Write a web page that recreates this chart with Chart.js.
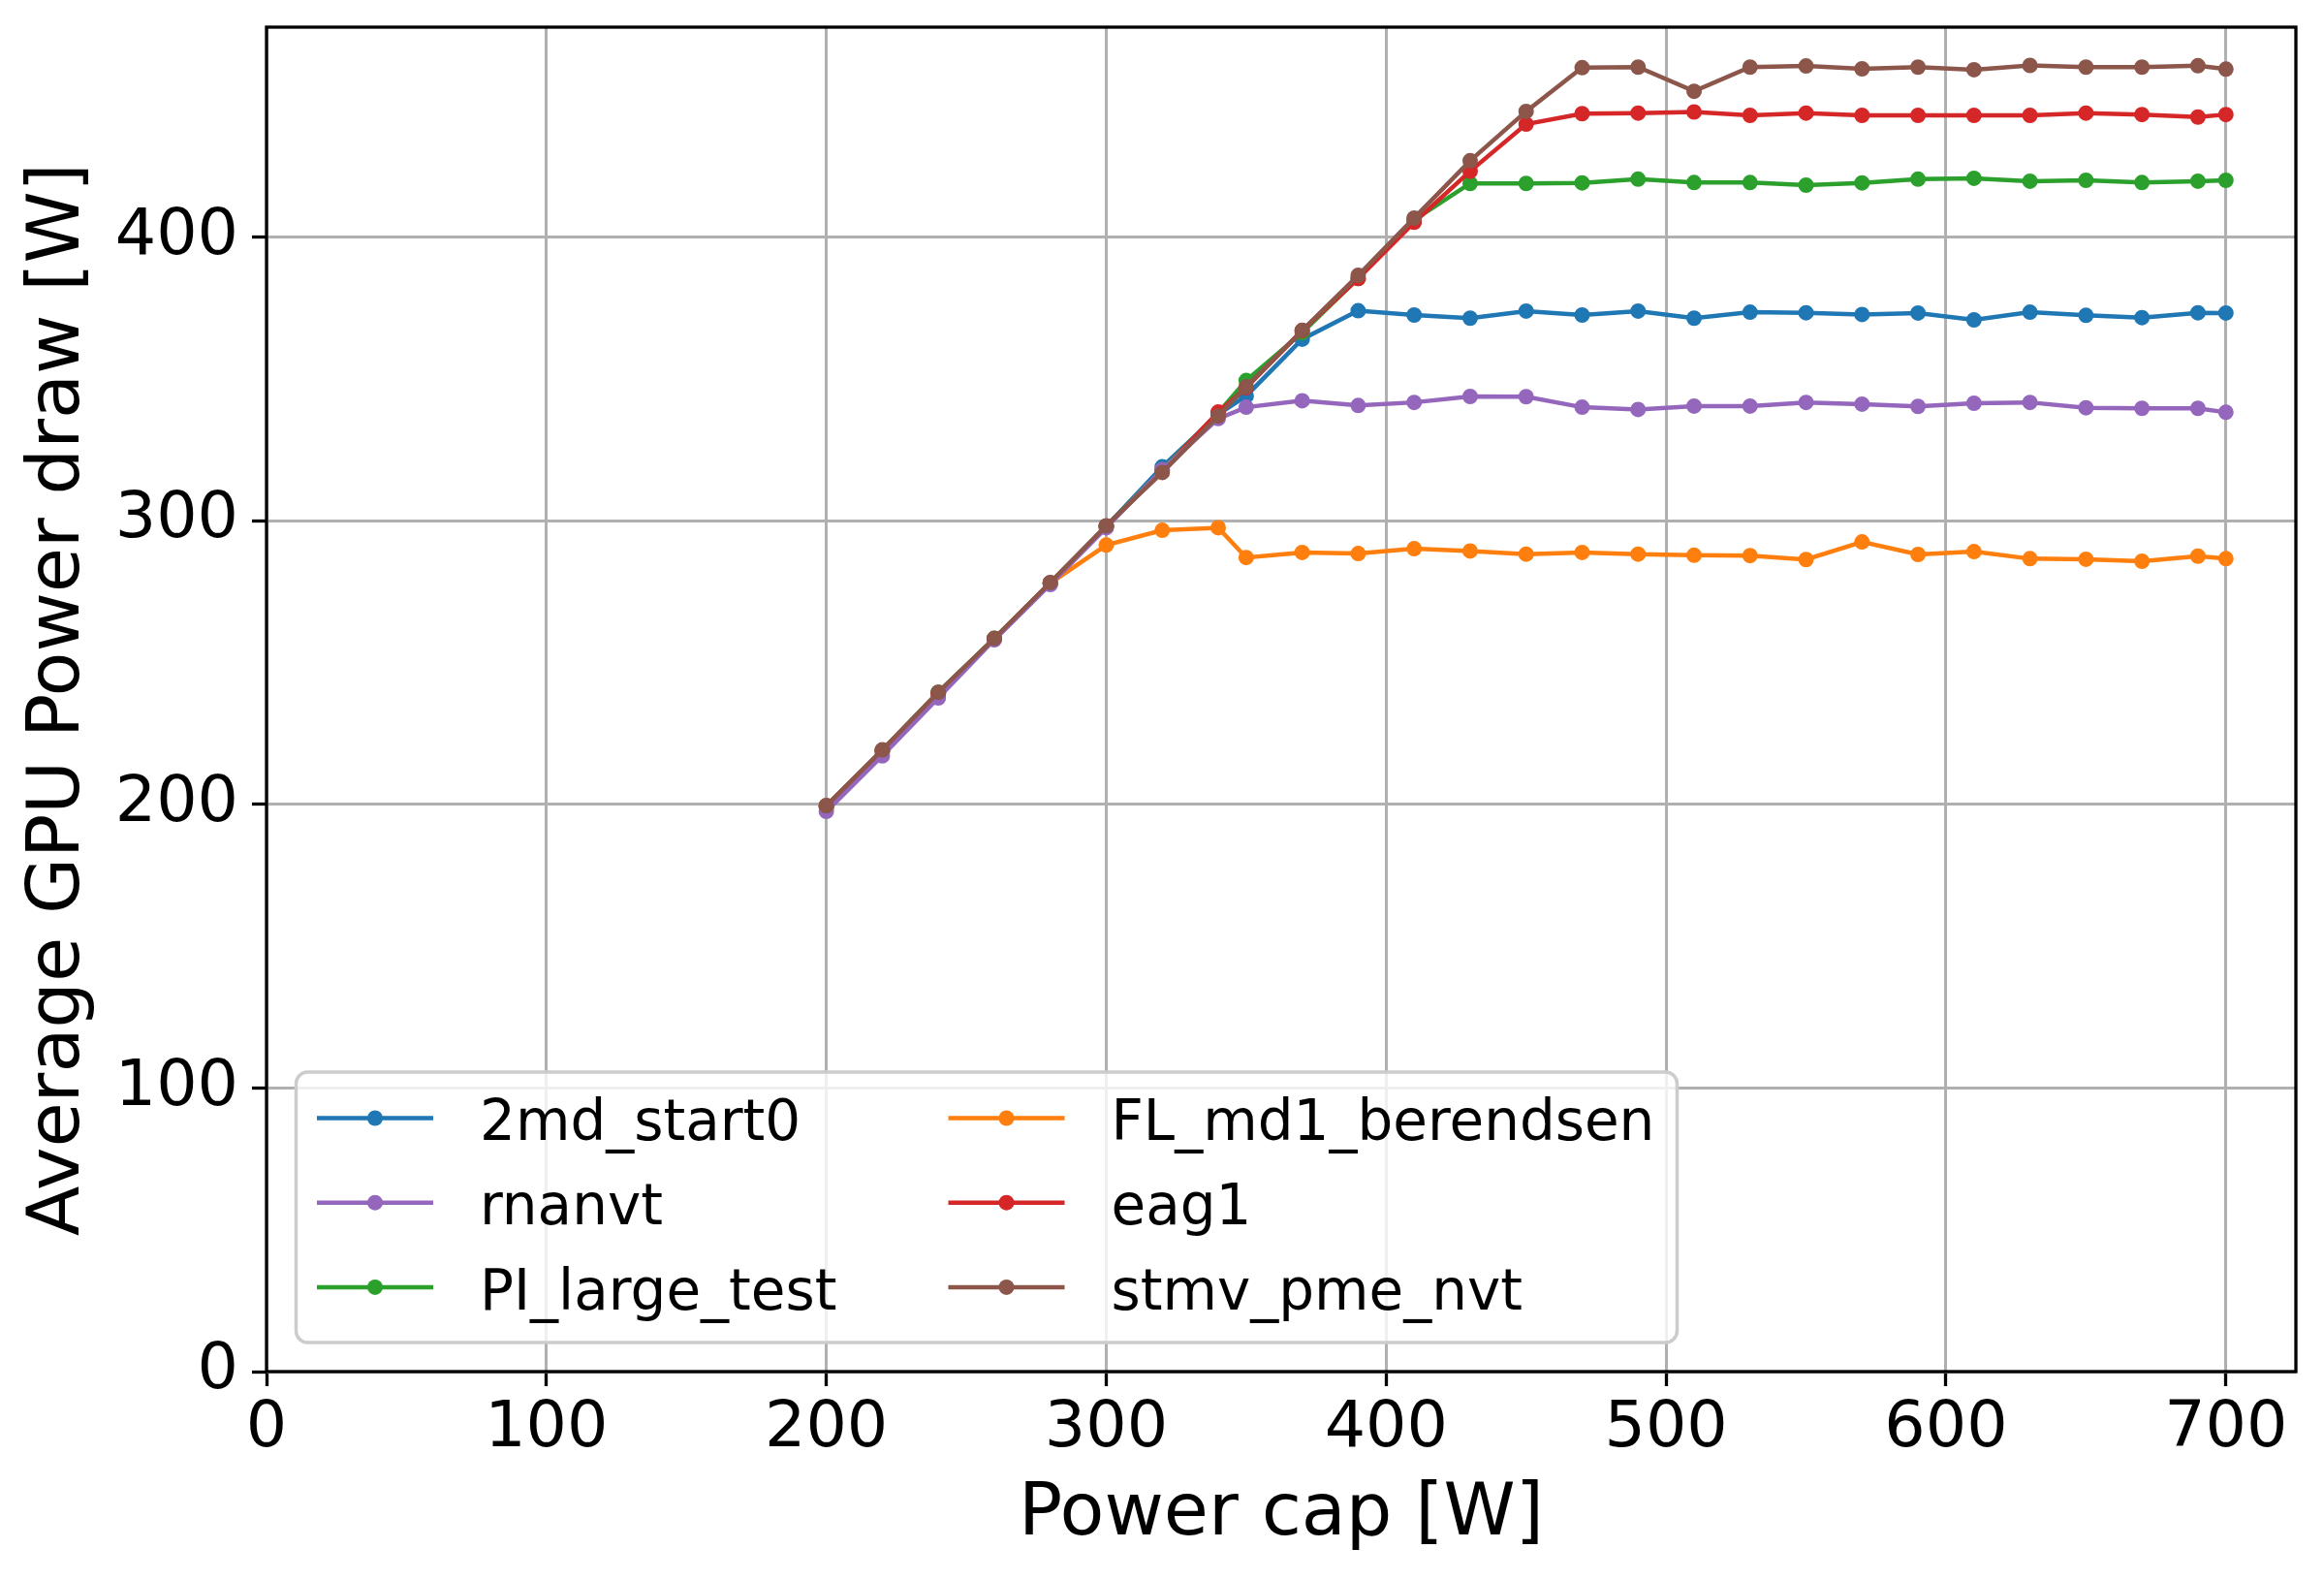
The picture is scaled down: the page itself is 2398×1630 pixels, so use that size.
<!DOCTYPE html>
<html>
<head>
<meta charset="utf-8">
<title>Average GPU Power draw vs Power cap</title>
<script src="https://cdn.jsdelivr.net/npm/chart.js@4.4.1/dist/chart.umd.min.js"></script>
<style>
    html, body { margin: 0; padding: 0; background: #ffffff; }
    canvas { display: block; }
</style>
</head>
<body>
<canvas id="powerChart" width="2398" height="1630"></canvas>
<script>
// Power cap settings [W] (x axis)
const powerCap = [200, 220, 240, 260, 280, 300, 320, 340, 350, 370, 390, 410, 430, 450,
    470, 490, 510, 530, 550, 570, 590, 610, 630, 650, 670, 690, 700];

// Average GPU power draw [W] per workload
const md2Start0 = [199, 218.6, 239, 258.3, 278, 298, 319, 337.5, 344, 364, 374, 372.5, 371.4, 373.9,
    372.5, 373.9, 371.4, 373.5, 373.3, 372.7, 373.2, 370.8, 373.5, 372.4, 371.6, 373.3, 373.2];
const rnanvt = [197.5, 217.1, 237.5, 258, 277.5, 297.5, 318, 336, 340, 342.3, 340.6, 341.7, 343.8, 343.7,
    340, 339.2, 340.4, 340.4, 341.7, 341.1, 340.3, 341.4, 341.7, 339.8, 339.6, 339.6, 338.2];
const piLargeTest = [199.5, 219, 239.5, 258.5, 278, 298, 318, 338, 349.4, 366.3, 385.4, 406, 418.9, 418.9,
    419.1, 420.4, 419.2, 419.2, 418.3, 419.1, 420.4, 420.7, 419.7, 420, 419.2, 419.7, 420];
const flMd1Berendsen = [199, 218.6, 239, 258.3, 278, 291.4, 296.6, 297.5, 287, 288.8, 288.4, 290.1, 289.3, 288.2,
    288.8, 288.2, 287.8, 287.7, 286.3, 292.5, 288.1, 289.1, 286.6, 286.4, 285.7, 287.5, 286.6];
const eag1 = [199.5, 219, 239, 258.3, 278, 298, 317.5, 338.3, 346.9, 367, 385.4, 405.2, 423.2, 439.8,
    443.5, 443.7, 444.1, 442.9, 443.7, 442.9, 442.9, 442.9, 442.9, 443.7, 443.2, 442.3, 443.2];
const stmvPmeNvt = [199.5, 219.2, 239.5, 258.5, 278.2, 298.2, 317, 336.9, 347.2, 367.1, 386.5, 406.7, 426.9, 444.3,
    459.7, 459.9, 451.4, 459.9, 460.3, 459.3, 459.9, 459, 460.5, 459.9, 459.9, 460.4, 459.2];

// Tick labels
const xTicks = [0, 100, 200, 300, 400, 500, 600, 700];
const yTicks = [0, 100, 200, 300, 400];

const toPoints = (values) => values.map((v, i) => ({ x: powerCap[i], y: v }));

// legend order (two columns, filled column first); drawOrder: lower = drawn on top
function makeSeries(label, values, color, drawOrder) {
    return {
        label: label,
        data: toPoints(values),
        borderColor: color,
        backgroundColor: color,
        borderWidth: 4.5,
        pointRadius: 7,
        pointBorderWidth: 2,
        pointBackgroundColor: color,
        pointBorderColor: color,
        tension: 0,
        order: drawOrder,
    };
}

const datasets = [
    makeSeries('2md_start0', md2Start0, '#1f77b4', 5),
    makeSeries('rnanvt', rnanvt, '#9467bd', 1),
    makeSeries('PI_large_test', piLargeTest, '#2ca02c', 3),
    makeSeries('FL_md1_berendsen', flMd1Berendsen, '#ff7f0e', 4),
    makeSeries('eag1', eag1, '#d62728', 2),
    makeSeries('stmv_pme_nvt', stmvPmeNvt, '#8c564b', 0),
];

const FONT = '"DejaVu Sans", "Liberation Sans", sans-serif';

// black box around the plot area (all four spines)
const frameBox = {
    id: 'frameBox',
    afterDatasetsDraw(chart) {
        const { ctx, chartArea: a } = chart;
        ctx.save();
        ctx.strokeStyle = '#000000';
        ctx.lineWidth = 3.3;
        ctx.strokeRect(a.left, a.top, a.right - a.left, a.bottom - a.top);
        ctx.restore();
    }
};

// matplotlib-like legend in the lower left corner, 2 columns
const boxLegend = {
    id: 'boxLegend',
    afterDraw(chart) {
        const { ctx, chartArea: a } = chart;
        const left = a.left + 30.5;
        const bottom = a.bottom - 30;
        const width = 1425;
        const height = 279;
        ctx.save();
        ctx.beginPath();
        ctx.roundRect(left, bottom - height, width, height, 12);
        ctx.fillStyle = 'rgba(255,255,255,0.8)';
        ctx.fill();
        ctx.lineWidth = 3.5;
        ctx.strokeStyle = '#cccccc';
        ctx.stroke();

        ctx.font = '58px ' + FONT;
        ctx.textBaseline = 'alphabetic';
        chart.data.datasets.forEach((ds, i) => {
            const col = Math.floor(i / 3);
            const row = i % 3;
            const x0 = left + 21.5 + col * 651.5;
            const y = bottom - height + 47.5 + row * 87.2;
            ctx.strokeStyle = ds.borderColor;
            ctx.lineWidth = 4.5;
            ctx.beginPath();
            ctx.moveTo(x0, y);
            ctx.lineTo(x0 + 120, y);
            ctx.stroke();
            ctx.fillStyle = ds.borderColor;
            ctx.beginPath();
            ctx.arc(x0 + 60, y, 8, 0, Math.PI * 2);
            ctx.fill();
            ctx.fillStyle = '#000000';
            ctx.fillText(ds.label, x0 + 168, y + 22.7);
        });
        ctx.restore();
    }
};

const ctx = document.getElementById('powerChart').getContext('2d');
const powerChart = new Chart(ctx, {
    type: 'line',
    data: { datasets: datasets },
    options: {
        responsive: false,
        animation: false,
        devicePixelRatio: 1,
        layout: { padding: { top: 28, right: 29, left: 0, bottom: 0 } },
        plugins: {
            legend: { display: false },
            tooltip: { enabled: false },
        },
        scales: {
            x: {
                type: 'linear',
                min: 0,
                max: 725,
                afterFit(scale) { scale.height = 215; },
                afterBuildTicks(scale) { scale.ticks = xTicks.map(v => ({ value: v })); },
                border: { display: false },
                grid: {
                    color: '#b0b0b0',
                    lineWidth: 3,
                    drawTicks: true,
                    tickLength: 15,
                    tickColor: '#000000',
                    tickWidth: 3.3,
                },
                ticks: {
                    color: '#000000',
                    font: { family: FONT, size: 66.7 },
                    padding: 5,
                    maxRotation: 0,
                    autoSkip: false,
                },
                title: {
                    display: true,
                    text: 'Power cap [W]',
                    color: '#000000',
                    font: { family: FONT, size: 75 },
                    padding: { top: 0, bottom: 21 },
                },
            },
            y: {
                type: 'linear',
                min: 0,
                max: 474,
                afterFit(scale) {
                    scale.width = 275;
                    scale.paddingTop = 0;
                    scale.paddingBottom = 0;
                },
                afterBuildTicks(scale) { scale.ticks = yTicks.map(v => ({ value: v })); },
                border: { display: false },
                grid: {
                    color: '#b0b0b0',
                    lineWidth: 3,
                    drawTicks: true,
                    tickLength: 15,
                    tickColor: '#000000',
                    tickWidth: 3.3,
                },
                ticks: {
                    color: '#000000',
                    font: { family: FONT, size: 66.7 },
                    padding: 14,
                    autoSkip: false,
                },
                title: {
                    display: true,
                    text: 'Average GPU Power draw [W]',
                    color: '#000000',
                    font: { family: FONT, size: 75 },
                    padding: { top: 17, bottom: 0 },
                },
            },
        },
    },
    plugins: [frameBox, boxLegend],
});
</script>
</body>
</html>
